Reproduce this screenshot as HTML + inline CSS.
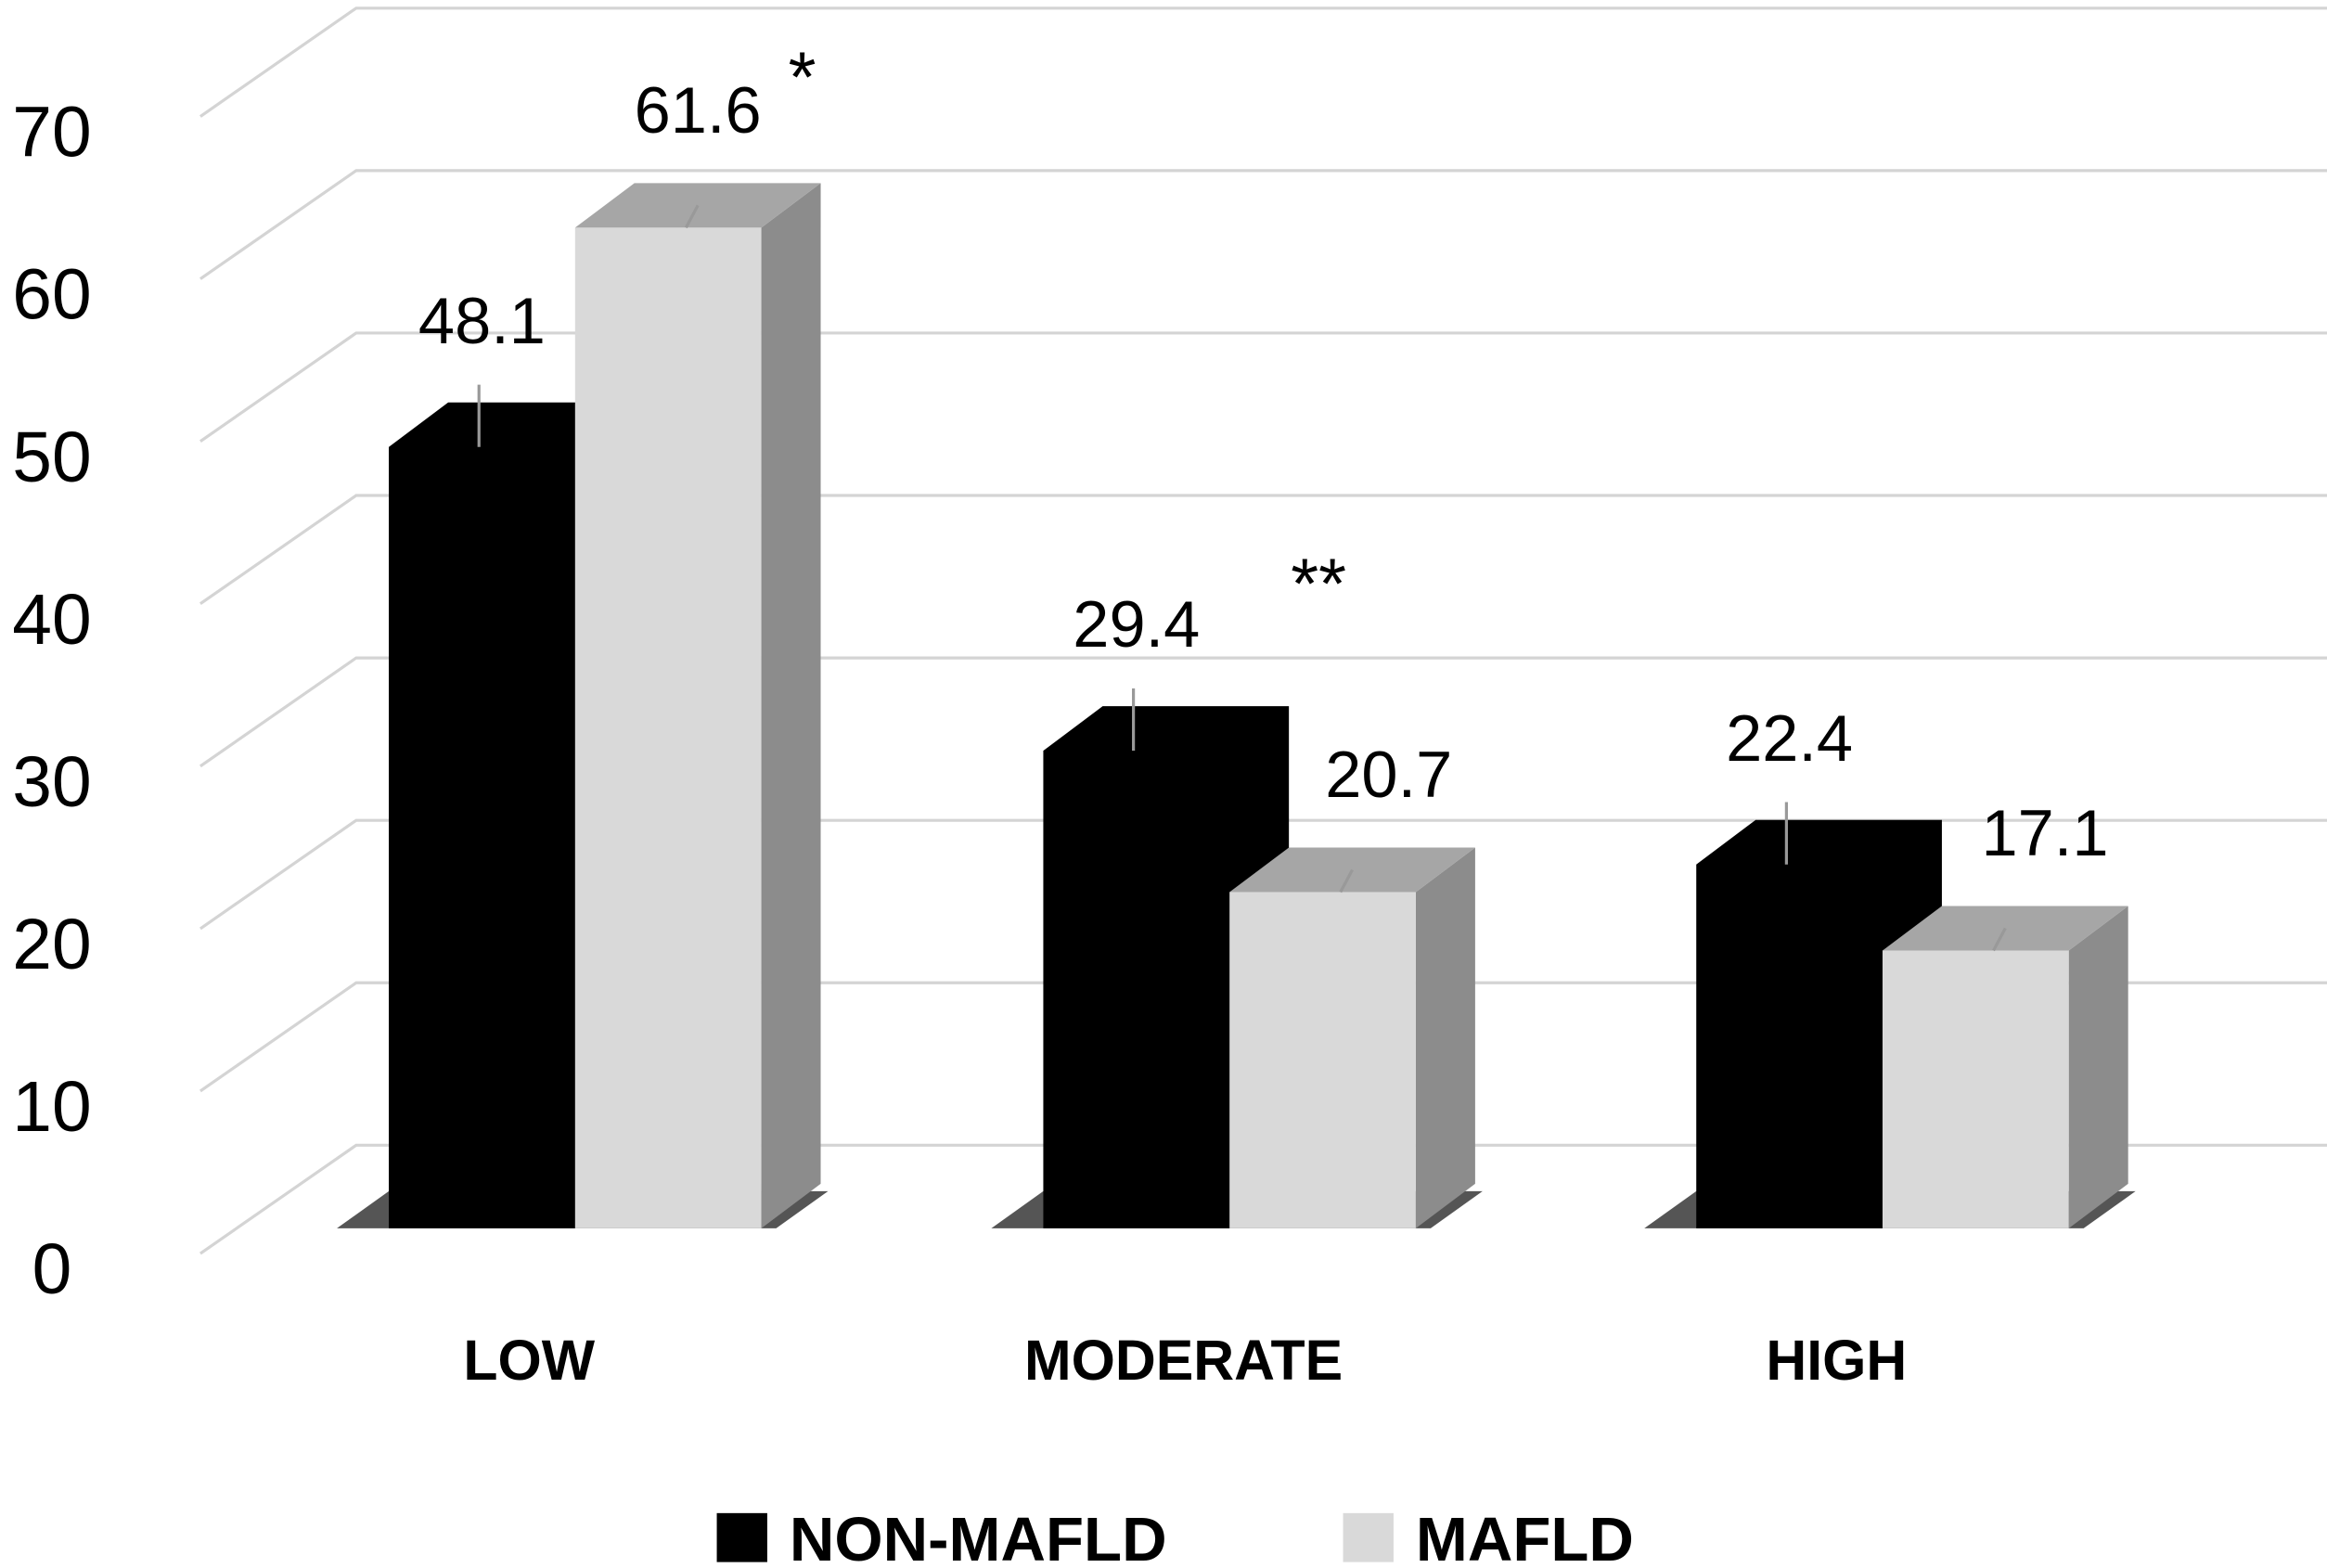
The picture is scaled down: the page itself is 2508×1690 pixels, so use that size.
<!DOCTYPE html>
<html><head><meta charset="utf-8"><style>
html,body{margin:0;padding:0;background:#fff;}
svg{display:block;}
text{font-family:"Liberation Sans",sans-serif;}
</style></head><body>
<svg id="chart" width="2508" height="1690" viewBox="0 0 1568 1057" preserveAspectRatio="none" xmlns="http://www.w3.org/2000/svg">
<g id="grid"></g>
<g id="yticks"></g>
<g id="bars"></g>
<g id="labels"></g>
<g id="cats"></g>
<g>
  <rect x="483" y="1020" width="34" height="33" fill="#000"/>
  <text x="532" y="1052" font-size="42" font-weight="bold" fill="#000">NON-MAFLD</text>
  <rect x="905" y="1020" width="34" height="33" fill="#d9d9d9"/>
  <text x="954" y="1052" font-size="42" font-weight="bold" fill="#000">MAFLD</text>
</g>
</svg>
<script>
const categories = ["LOW","MODERATE","HIGH"];
const nonMafld = [48.1, 29.4, 22.4];
const mafld = [61.6, 20.7, 17.1];
const stars = ["*", "**", ""];
const yTicks = [0,10,20,30,40,50,60,70];

const NS="http://www.w3.org/2000/svg";
const PX=10.95, FLOOR=828, BACK0=772, FRONT0=845;
const groupX=[262,703,1143], BW=125.5, DX=40, DY=30;
function y(v){return FLOOR - v*PX;}
function mk(tag,attrs,parent){const e=document.createElementNS(NS,tag);for(const k in attrs)e.setAttribute(k,attrs[k]);parent.appendChild(e);return e;}

const grid=document.getElementById('grid');
for(let v=0; v<=80; v+=10){
  const yb=BACK0 - v*PX, yf=FRONT0 - v*PX;
  const l=mk('polyline',{points:`135,${yf} 240,${yb} 1568,${yb}`,fill:'none',stroke:'#d4d4d4','stroke-width':2},grid);
  
  
}
const yt=document.getElementById('yticks');
yTicks.forEach(v=>{
  const t=mk('text',{x:35,y:FRONT0 - v*PX + 27,'font-size':48,'text-anchor':'middle',fill:'#000'},yt);
  t.textContent=v;
  
  
});

const bars=document.getElementById('bars');
const labels=document.getElementById('labels');
const cats=document.getElementById('cats');
categories.forEach((c,i)=>{
  const x0=groupX[i], x1=x0+BW, x2=x1+BW;
  const sh=mk('polygon',{points:`${x0-35},${FLOOR} ${x0},${FLOOR-DY+5} ${x2+DX+5},${FLOOR-DY+5} ${x2+10},${FLOOR} `,fill:'#555'},bars);
  
  
  const yn=y(nonMafld[i]);
  const bt=mk('polygon',{points:`${x0},${yn} ${x0+DX},${yn-DY} ${x1+DX},${yn-DY} ${x1+DX},${FLOOR-DY} ${x1},${FLOOR} ${x0},${FLOOR}`,fill:'#000'},bars);
  
  
  const ym=y(mafld[i]);
  const side=mk('polygon',{points:`${x2},${ym} ${x2+DX},${ym-DY} ${x2+DX},${FLOOR-DY} ${x2},${FLOOR}`,fill:'#8c8c8c'},bars);
  
  
  const top=mk('polygon',{points:`${x1},${ym} ${x1+DX},${ym-DY} ${x2+DX},${ym-DY} ${x2},${ym}`,fill:'#a6a6a6'},bars);
  
  
  const fr=mk('rect',{x:x1,y:ym,width:BW,height:FLOOR-ym,fill:'#d9d9d9'},bars);
  
  
  const cn=x0+BW/2, cm=x1+BW/2+20;
  const e1=mk('line',{x1:cn-2,y1:yn-42,x2:cn-2,y2:yn,stroke:'#999','stroke-width':2},bars);
  
  
  const e2=mk('line',{x1:cm,y1:ym-15,x2:cm-8,y2:ym,stroke:'#999','stroke-width':2},bars);
  
  
  const l1=mk('text',{x:cn,y:yn-70,'font-size':44,'text-anchor':'middle',fill:'#000'},labels);
  l1.textContent=nonMafld[i].toFixed(1);
  
  
  const off = (61.6-mafld[i])*0.6;
  const l2=mk('text',{x:x1+BW/2+20+off,y:ym-64,'font-size':44,'text-anchor':'middle',fill:'#000'},labels);
  l2.textContent=mafld[i].toFixed(1);
  
  
  if(stars[i]){
    const s=mk('text',{x: i===0? x1+153 : x1+60, y: i===0? ym-85 : yn-96,'font-size':48,'text-anchor':'middle',fill:'#000'},labels);
    s.textContent=stars[i];
    
    
  }
  const ct=mk('text',{x:x1-31,y:930,'font-size':38,'font-weight':'bold','text-anchor':'middle',fill:'#000'},cats);
  ct.textContent=c;
  
  
});
</script>
</body></html>
